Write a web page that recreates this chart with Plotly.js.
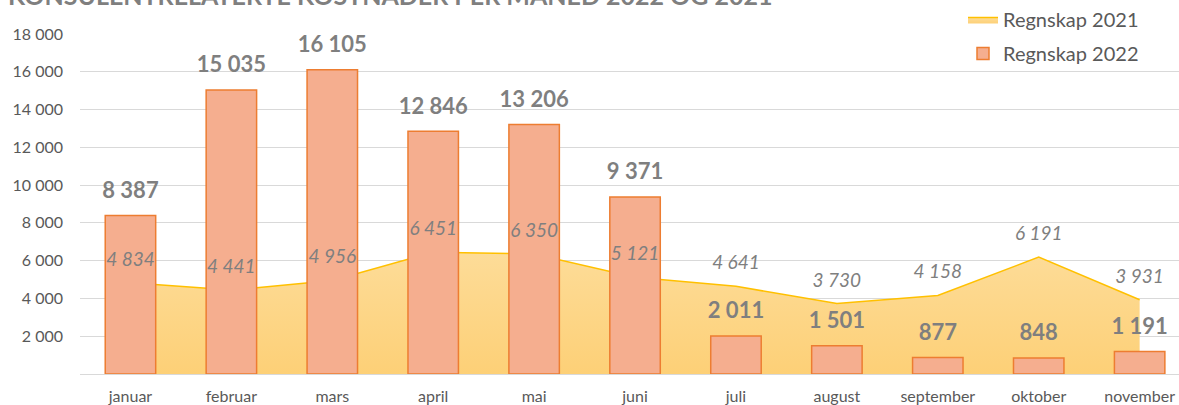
<!DOCTYPE html>
<html>
<head>
<meta charset="utf-8">
<script src="https://cdn.plot.ly/plotly-3.0.1.min.js"></script>
<style>html,body{margin:0;padding:0;background:#fff;}#chart{width:1179px;height:405px;}</style>
</head>
<body>
<div id="chart"></div>
<script>
const months = ["januar","februar","mars","april","mai","juni","juli","august","september","oktober","november"];
const regnskap2021 = [4834, 4441, 4956, 6451, 6350, 5121, 4641, 3730, 4158, 6191, 3931];
const regnskap2022 = [8387, 15035, 16105, 12846, 13206, 9371, 2011, 1501, 877, 848, 1191];
const yTicks = [2000, 4000, 6000, 8000, 10000, 12000, 14000, 16000, 18000];
const titleText = "KONSULENTRELATERTE KOSTNADER PER MÅNED 2022 OG 2021";

const FONT = "Lato, 'Open Sans', sans-serif";
const GRAY = "#7f7f7f";

const area = {
  type: "scatter", mode: "lines", name: "Regnskap 2021",
  x: months, y: regnskap2021, xaxis: "x", yaxis: "y",
  fill: "tozeroy",
  fillcolor: "#fdd88e",
  fillgradient: {type: "vertical", colorscale: [[0, "#fdd077"], [1, "#fddc98"]]},
  line: {color: "#ffc000", width: 1.5},
  legendgroup: "a", hoverinfo: "skip"
};
const bars = {
  type: "bar", name: "Regnskap 2022",
  x: months, y: regnskap2022, xaxis: "x", yaxis: "y2",
  width: 0.5,
  marker: {color: "#f5ae8f", line: {color: "#ed7d31", width: 1.5}},
  legendgroup: "b", hoverinfo: "skip"
};
const barLabels = {
  type: "scatter", mode: "markers+text", showlegend: false,
  x: months, y: regnskap2022, xaxis: "x", yaxis: "y2",
  marker: {size: 18, opacity: 0},
  texttemplate: "%{y:,}", textposition: "top center", cliponaxis: false,
  textfont: {family: FONT, size: 22, color: GRAY, weight: "bold"},
  hoverinfo: "skip"
};
const areaLabels = {
  type: "scatter", mode: "markers+text", showlegend: false,
  x: months, y: regnskap2021, xaxis: "x", yaxis: "y2",
  marker: {size: 18, opacity: 0},
  texttemplate: "%{y:,}", textposition: "top center", cliponaxis: false,
  textfont: {family: FONT, size: 19, color: GRAY, style: "italic"},
  hoverinfo: "skip"
};

const layout = {
  width: 1179, height: 405,
  margin: {l: 80, r: 0, t: 34, b: 31},
  paper_bgcolor: "#ffffff", plot_bgcolor: "#ffffff",
  separators: ", ",
  font: {family: FONT, color: GRAY},
  title: {
    text: titleText, x: 8/1179, xanchor: "left", y: 1 - 5/405, yanchor: "bottom",
    font: {family: FONT, size: 25, color: GRAY, weight: "bold"}
  },
  xaxis: {
    type: "category", range: [-0.5, 10.39], showgrid: false, zeroline: false,
    ticks: "", ticklabelstandoff: 11, tickfont: {family: FONT, size: 16, color: "#595959"},
    fixedrange: true
  },
  yaxis: {
    range: [0, 18000], tickvals: yTicks, tickformat: ",d",
    showgrid: true, gridcolor: "#d9d9d9", gridwidth: 1,
    zeroline: true, zerolinecolor: "#d9d9d9", zerolinewidth: 1,
    ticks: "", ticklabelstandoff: 16, tickfont: {family: FONT, size: 16, color: "#595959"},
    fixedrange: true
  },
  yaxis2: {
    range: [0, 18000], overlaying: "y", visible: false, showgrid: false, zeroline: false, fixedrange: true
  },
  showlegend: true,
  legend: {
    x: (963 - 80) / 1099, xanchor: "left", y: 1 + (34 - 0) / 340, yanchor: "top",
    bgcolor: "rgba(0,0,0,0)", traceorder: "grouped", tracegroupgap: 5,
    font: {family: FONT, size: 20, color: "#595959"}
  }
};

Plotly.newPlot("chart", [area, bars, barLabels, areaLabels], layout, {displayModeBar: false, staticPlot: true});
</script>
</body>
</html>
